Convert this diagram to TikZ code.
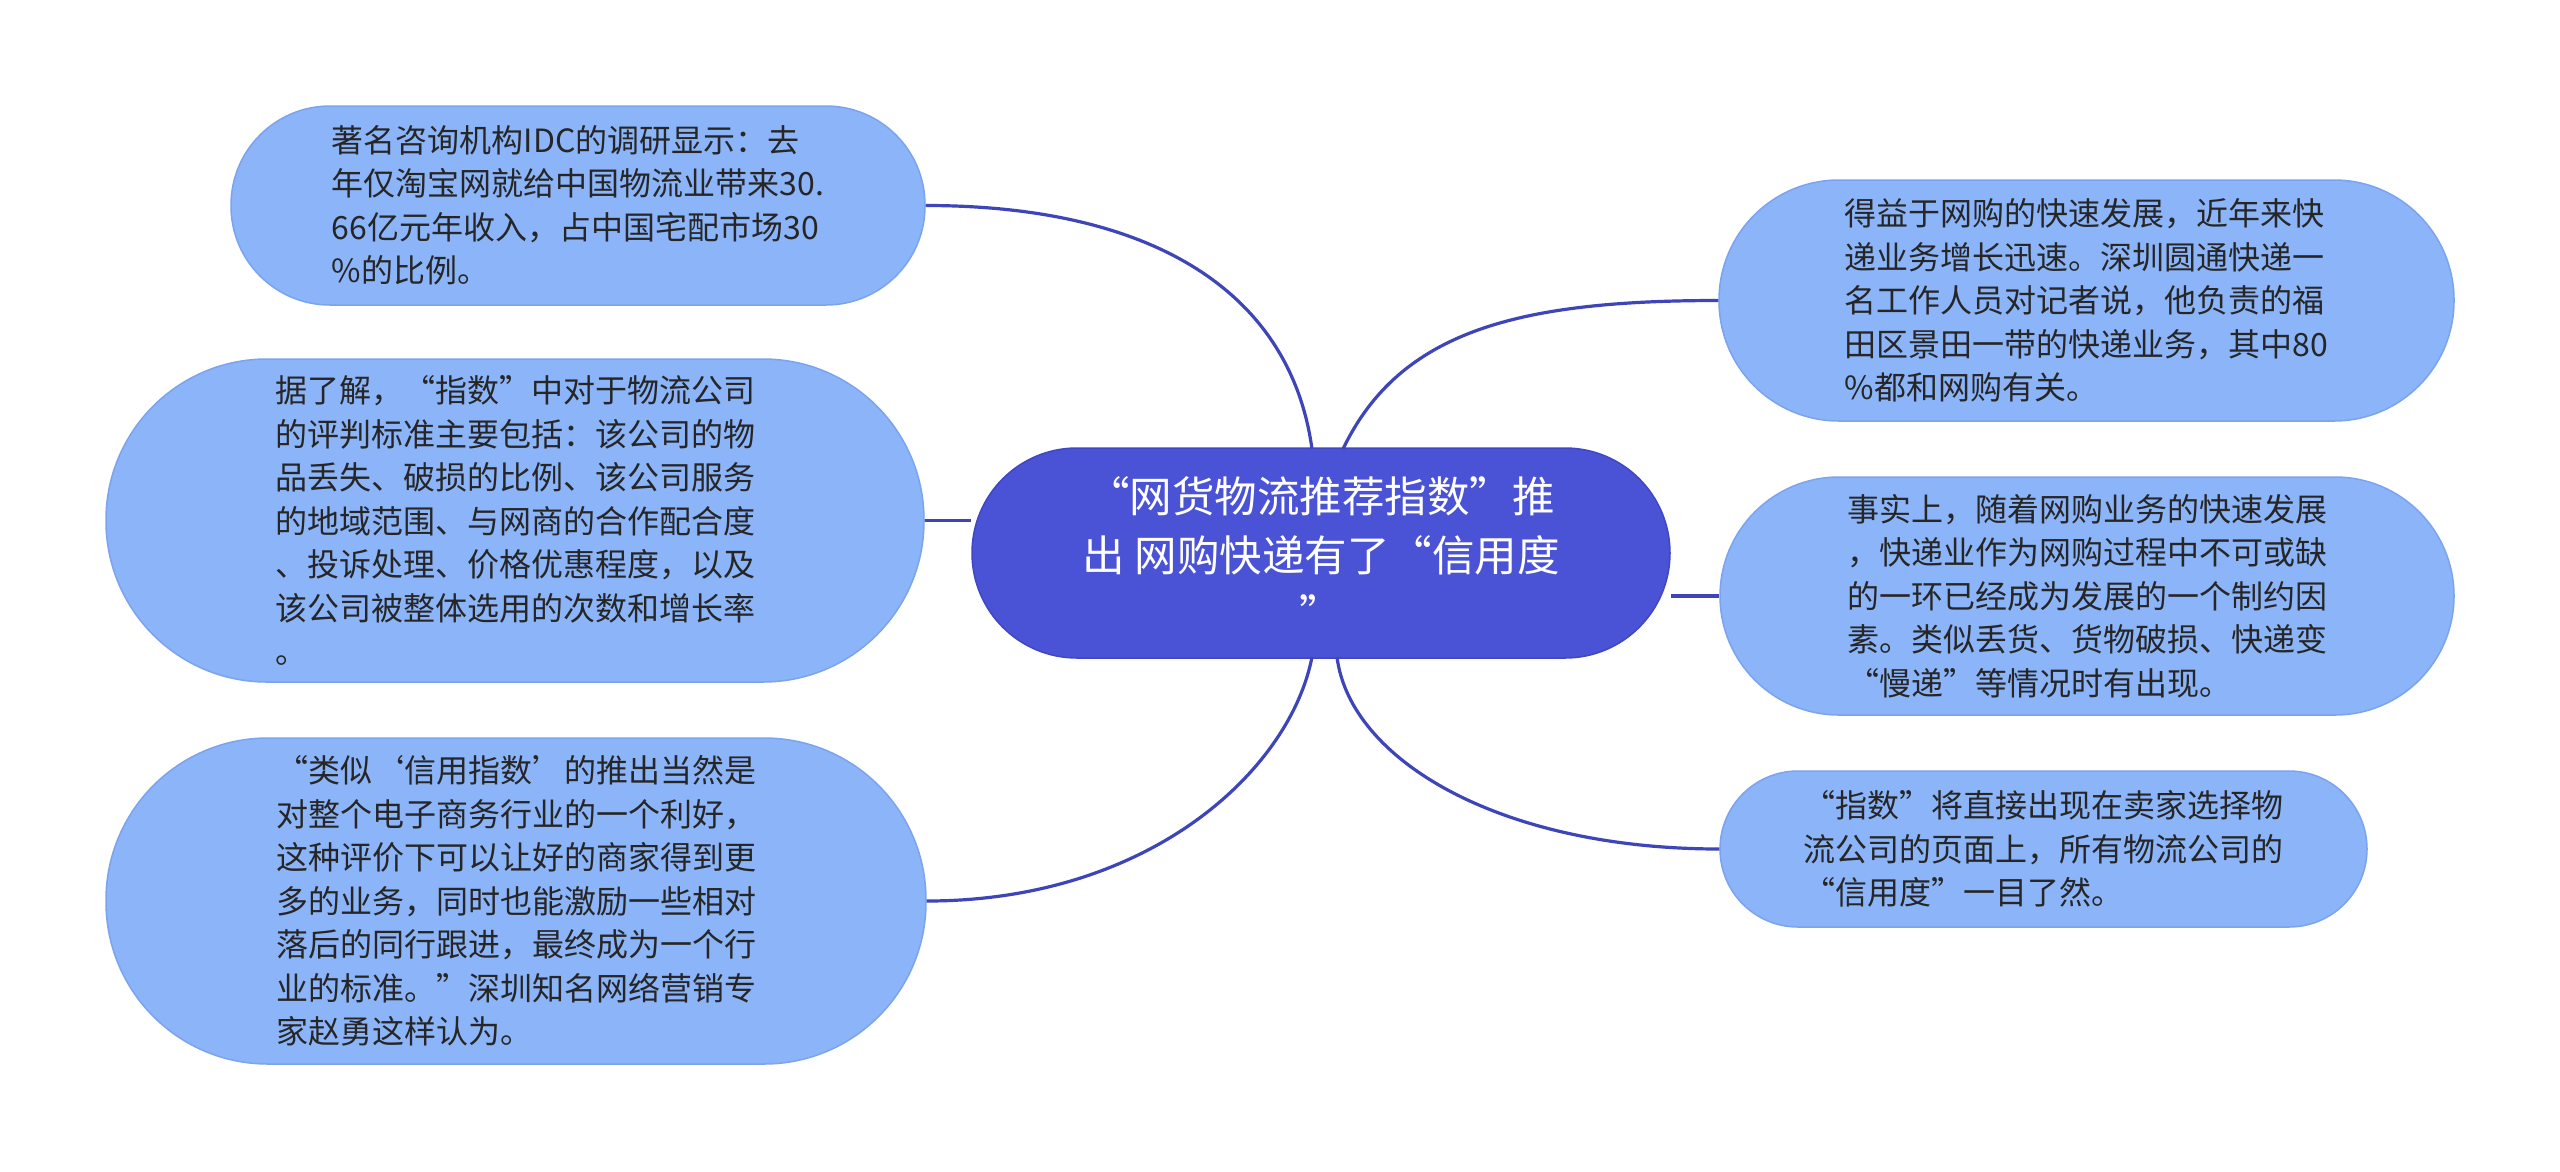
\documentclass[tikz,border=0pt]{standalone}
\usepackage{fontspec}
\setmainfont{Noto Sans CJK SC}
\newfontfamily\cjkfont{Noto Sans CJK SC}
\definecolor{leafblue}{HTML}{8BB4F9}
\definecolor{leafedge}{HTML}{7BA3EE}
\definecolor{rootblue}{HTML}{4A52D6}
\definecolor{rootedge}{HTML}{3F47C4}
\definecolor{linkblue}{HTML}{3D45B8}
\definecolor{textdark}{HTML}{262626}
\tikzset{
  leaf/.style={fill=leafblue, draw=leafedge, line width=1.5pt, text=textdark,
    font=\cjkfont\fontsize{32}{43.5}\selectfont, align=left, inner sep=0pt},
  rootnode/.style={fill=rootblue, draw=rootedge, line width=1.5pt, text=white,
    font=\cjkfont\fontsize{42.5}{59}\selectfont, align=center, inner sep=0pt},
  link/.style={draw=linkblue, line width=3.2pt}
}
\begin{document}
\begin{tikzpicture}[x=1pt,y=-1pt]
\useasboundingbox (0,0) rectangle (2560,1171);
\fill[white] (0,0) rectangle (2560,1171);

\node[rootnode, minimum width=698pt, minimum height=210pt, rounded corners=105pt] (root) at (1321,553)
  {“网货物流推荐指数”推\\出 网购快递有了“信用度\\”};

\node[leaf, minimum width=694pt, minimum height=199pt, rounded corners=99pt] (tl) at (578,205.5)
  {著名咨询机构IDC的调研显示：去\\年仅淘宝网就给中国物流业带来30.\\66亿元年收入，占中国宅配市场30\\\%的比例。};

\node[leaf, minimum width=818pt, minimum height=323pt, rounded corners=161pt] (ml) at (515,520.5)
  {据了解，“指数”中对于物流公司\\的评判标准主要包括：该公司的物\\品丢失、破损的比例、该公司服务\\的地域范围、与网商的合作配合度\\、投诉处理、价格优惠程度，以及\\该公司被整体选用的次数和增长率\\。};

\node[leaf, minimum width=820pt, minimum height=326pt, rounded corners=162pt] (bl) at (516,901)
  {“类似‘信用指数’的推出当然是\\对整个电子商务行业的一个利好，\\这种评价下可以让好的商家得到更\\多的业务，同时也能激励一些相对\\落后的同行跟进，最终成为一个行\\业的标准。”深圳知名网络营销专\\家赵勇这样认为。};

\node[leaf, minimum width=735pt, minimum height=241pt, rounded corners=120pt] (tr) at (2086.5,300.5)
  {得益于网购的快速发展，近年来快\\递业务增长迅速。深圳圆通快递一\\名工作人员对记者说，他负责的福\\田区景田一带的快递业务，其中80\\\%都和网购有关。};

\node[leaf, minimum width=734pt, minimum height=238pt, rounded corners=119pt] (mr) at (2087,596)
  {事实上，随着网购业务的快速发展\\，快递业作为网购过程中不可或缺\\的一环已经成为发展的一个制约因\\素。类似丢货、货物破损、快递变\\“慢递”等情况时有出现。};

\node[leaf, minimum width=647pt, minimum height=156pt, rounded corners=78pt] (br) at (2043.5,849)
  {“指数”将直接出现在卖家选择物\\流公司的页面上，所有物流公司的\\“信用度”一目了然。};

\coordinate (rtl) at (1312,449);
\coordinate (rtr) at (1343,449);
\coordinate (rbl) at (1312,657);
\coordinate (rbr) at (1337,657);

\draw[link] (tl.east) .. controls (1150,205.5) and (1290,290) .. (rtl);
\draw[link] (ml.east) -- (ml.east -| root.west);
\draw[link] (bl.east) .. controls (1150,901) and (1290,770) .. (rbl);
\draw[link] (rtr) .. controls (1400,330) and (1520,300.5) .. (tr.west);
\draw[link] (mr.west -| root.east) -- (mr.west);
\draw[link] (rbr) .. controls (1350,760) and (1500,849) .. (br.west);
\end{tikzpicture}
\end{document}
